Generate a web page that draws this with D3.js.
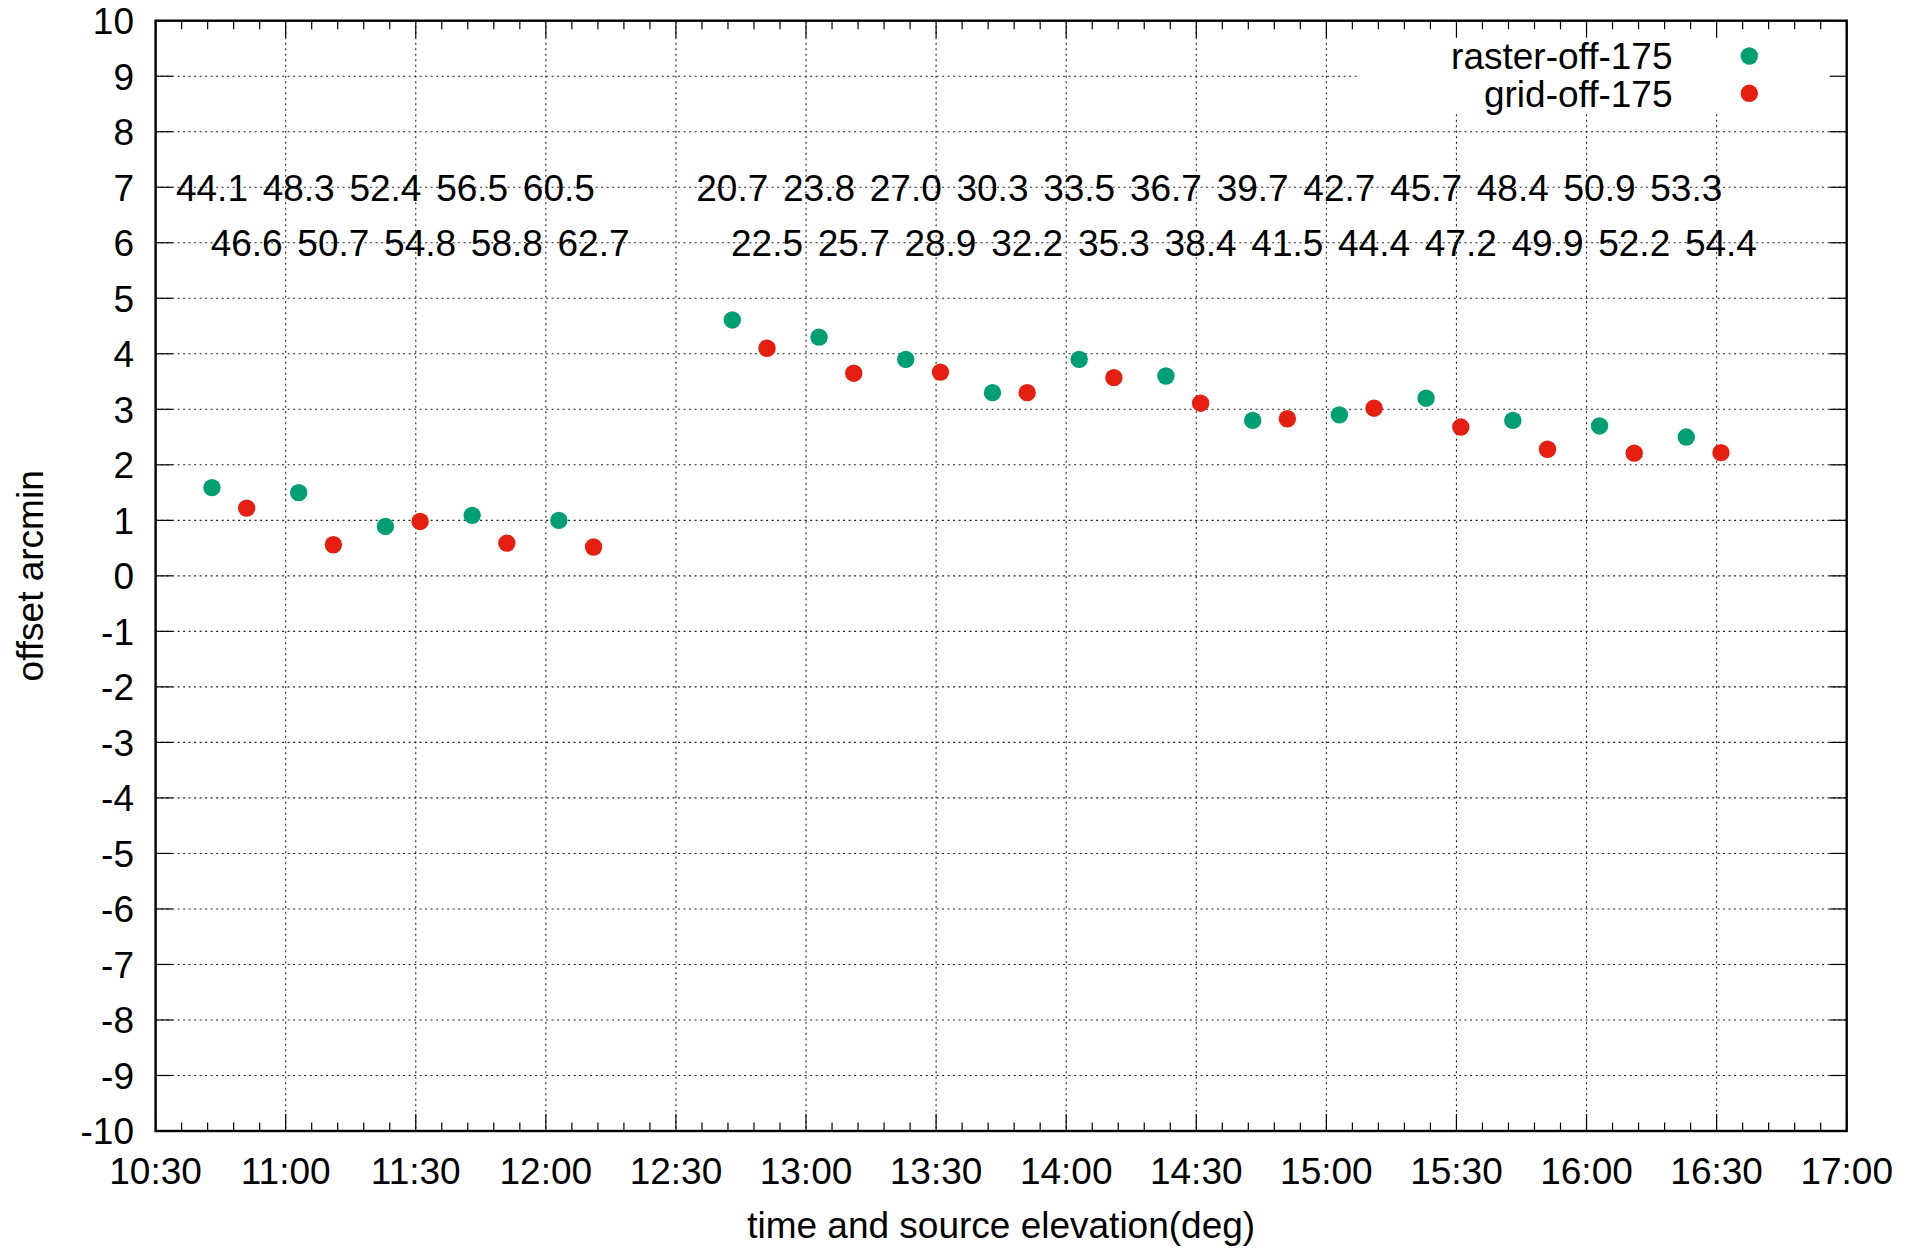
<!DOCTYPE html>
<html>
<head>
<meta charset="utf-8">
<script src="https://cdn.jsdelivr.net/npm/d3@7"></script>
<style>
  html, body { margin: 0; padding: 0; background: #fff; }
  svg { display: block; }
  text { font-family: "Liberation Sans", Arial, Helvetica, sans-serif; fill: #000; }
</style>
</head>
<body>
<script>
// ---------------- data ----------------
const rasterTimes = ["10:43","11:03","11:23","11:43","12:03","12:43","13:03","13:23","13:43","14:03","14:23","14:43","15:03","15:23","15:43","16:03","16:23"];
const rasterOffsets = [1.59, 1.50, 0.89, 1.09, 1.00, 4.61, 4.30, 3.90, 3.30, 3.90, 3.60, 2.80, 2.90, 3.20, 2.80, 2.70, 2.50];
const rasterElevations = ["44.1","48.3","52.4","56.5","60.5","20.7","23.8","27.0","30.3","33.5","36.7","39.7","42.7","45.7","48.4","50.9","53.3"];

const gridTimes = ["10:51","11:11","11:31","11:51","12:11","12:51","13:11","13:31","13:51","14:11","14:31","14:51","15:11","15:31","15:51","16:11","16:31"];
const gridOffsets = [1.22, 0.56, 0.98, 0.59, 0.52, 4.10, 3.65, 3.67, 3.30, 3.57, 3.11, 2.83, 3.02, 2.68, 2.28, 2.21, 2.22];
const gridElevations = ["46.6","50.7","54.8","58.8","62.7","22.5","25.7","28.9","32.2","35.3","38.4","41.5","44.4","47.2","49.9","52.2","54.4"];

const seriesNames = ["raster-off-175", "grid-off-175"];
const seriesColors = ["#009e73", "#e51e10"];
const elevationRows = [7, 6];          // y-values at which the elevation labels are printed
const xDomain = ["10:30", "17:00"];
const yDomain = [-10, 10];
const yTickValues = d3.range(-10, 11, 1);
const xLabel = "time and source elevation(deg)";
const yLabel = "offset arcmin";

// ---------------- layout ----------------
const W = 1921, H = 1249;
const M = { left: 155.6, right: 1846.7, top: 20.7, bottom: 1131 };
const FS = 37;
const R = 8.7;
const parse = d3.timeParse("%H:%M");

const svg = d3.select("body").append("svg").attr("width", W).attr("height", H);

const x = d3.scaleTime().domain(xDomain.map(parse)).range([M.left, M.right]);
const y = d3.scaleLinear().domain(yDomain).range([M.bottom, M.top]);

const majorX = x.ticks(d3.timeMinute.every(30));
const minorX = x.ticks(d3.timeMinute.every(6)).filter(d => d.getMinutes() % 30 !== 0);

// ---------------- grid ----------------
const grid = svg.append("g").attr("stroke", "#222").attr("stroke-width", 1.1)
  .attr("stroke-dasharray", "2,3.5").attr("fill", "none");
grid.selectAll("line.gy").data(yTickValues.filter(v => v > yDomain[0] && v < yDomain[1])).join("line")
  .attr("x1", M.left).attr("x2", M.right)
  .attr("y1", d => y(d)).attr("y2", d => y(d));
grid.selectAll("line.gx").data(majorX.filter((d, i) => i > 0 && i < majorX.length - 1)).join("line")
  .attr("x1", d => x(d)).attr("x2", d => x(d))
  .attr("y1", M.top).attr("y2", M.bottom);

// key area blanks out the grid
svg.append("rect").attr("x", 1359).attr("y", M.top).attr("width", M.right - 1359).attr("height", 113 - M.top)
  .attr("fill", "#fff");

// ---------------- elevation labels ----------------
function elevLabels(times, labels, row) {
  svg.append("g").selectAll("text").data(times).join("text")
    .attr("x", d => x(parse(d)))
    .attr("y", y(row))
    .attr("dy", "0.36em")
    .attr("text-anchor", "middle")
    .attr("font-size", FS)
    .text((d, i) => labels[i]);
}
elevLabels(rasterTimes, rasterElevations, elevationRows[0]);
elevLabels(gridTimes, gridElevations, elevationRows[1]);

// ---------------- points ----------------
function points(times, vals, color) {
  svg.append("g").selectAll("circle").data(times).join("circle")
    .attr("cx", d => x(parse(d)))
    .attr("cy", (d, i) => y(vals[i]))
    .attr("r", R)
    .attr("fill", color);
}
points(rasterTimes, rasterOffsets, seriesColors[0]);
points(gridTimes, gridOffsets, seriesColors[1]);

// ---------------- axes / ticks ----------------
const MAJ = 17, MIN = 8.5;
const tk = svg.append("g").attr("stroke", "#000").attr("stroke-width", 1.2);
tk.selectAll("line.yl").data(yTickValues).join("line")
  .attr("x1", M.left).attr("x2", M.left + MAJ).attr("y1", d => y(d)).attr("y2", d => y(d));
tk.selectAll("line.yr").data(yTickValues).join("line").attr("class", "yr")
  .attr("x1", M.right).attr("x2", M.right - MAJ).attr("y1", d => y(d)).attr("y2", d => y(d));
[[M.bottom, -1], [M.top, 1]].forEach(([yy, s]) => {
  const g = svg.append("g").attr("stroke", "#000").attr("stroke-width", 1.2);
  g.selectAll("line.maj").data(majorX).join("line")
    .attr("x1", d => x(d)).attr("x2", d => x(d)).attr("y1", yy).attr("y2", yy + s * MAJ);
  g.selectAll("line.min").data(minorX).enter().append("line")
    .attr("x1", d => x(d)).attr("x2", d => x(d)).attr("y1", yy).attr("y2", yy + s * MIN);
});

// border
svg.append("rect").attr("x", M.left).attr("y", M.top)
  .attr("width", M.right - M.left).attr("height", M.bottom - M.top)
  .attr("fill", "none").attr("stroke", "#000").attr("stroke-width", 2.4);

// tick labels
svg.append("g").selectAll("text").data(yTickValues).join("text")
  .attr("x", 134).attr("y", d => y(d)).attr("dy", "0.36em")
  .attr("text-anchor", "end").attr("font-size", FS)
  .text(d => d);
const fmt = d3.timeFormat("%H:%M");
svg.append("g").selectAll("text").data(majorX).join("text")
  .attr("x", d => x(d)).attr("y", 1184)
  .attr("text-anchor", "middle").attr("font-size", FS)
  .text(d => fmt(d));

// axis titles
svg.append("text").attr("x", (M.left + M.right) / 2).attr("y", 1238)
  .attr("text-anchor", "middle").attr("font-size", FS).text(xLabel);
svg.append("text")
  .attr("transform", `translate(42.5, ${(M.top + M.bottom) / 2}) rotate(-90)`)
  .attr("text-anchor", "middle").attr("font-size", FS).text(yLabel);

// ---------------- legend ----------------
const legend = svg.append("g");
seriesNames.forEach((name, i) => {
  const cy = 56 + i * 37.3;
  legend.append("text").attr("x", 1672.5).attr("y", cy).attr("dy", "0.36em")
    .attr("text-anchor", "end").attr("font-size", FS).text(name);
  legend.append("circle").attr("cx", 1749.3).attr("cy", cy).attr("r", R).attr("fill", seriesColors[i]);
});
</script>
</body>
</html>
